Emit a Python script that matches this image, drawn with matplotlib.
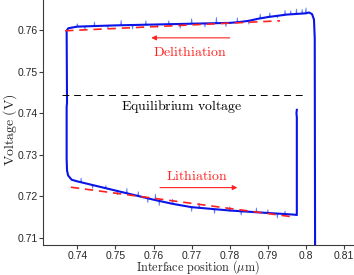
import matplotlib
matplotlib.use("Agg")
import matplotlib.pyplot as plt

plt.rcParams['mathtext.fontset'] = 'cm'

# blue simulated curve (one path: lithiation then delithiation)
curve_x = [0.7976, 0.7975, 0.7976, 0.7976, 0.7970, 0.790, 0.785, 0.780, 0.775, 0.770,
           0.765, 0.760, 0.755, 0.750, 0.745, 0.740, 0.7385, 0.7376, 0.7373, 0.7372,
           0.7372, 0.7373, 0.7372, 0.7376, 0.740, 0.750, 0.760, 0.770, 0.780, 0.7825,
           0.785, 0.7875, 0.790, 0.795, 0.800, 0.8008, 0.8016, 0.8021, 0.8023, 0.8024]
curve_y = [0.7408, 0.7400, 0.7390, 0.7155, 0.7156, 0.7160, 0.7163, 0.7166, 0.7170, 0.7174,
           0.7182, 0.7192, 0.7203, 0.7214, 0.7225, 0.7236, 0.7240, 0.7250, 0.7262, 0.7290,
           0.7415, 0.7425, 0.7598, 0.7604, 0.7608, 0.7611, 0.7613, 0.7615, 0.7617, 0.7619,
           0.7622, 0.7627, 0.7631, 0.7637, 0.7640, 0.7642, 0.7638, 0.7625, 0.7580, 0.7000]

# noise spikes around the curves (x, base voltage, excursion)
up_spike_x = [0.7400, 0.7420, 0.7445, 0.7480, 0.7515, 0.7545, 0.7580, 0.7610, 0.7640,
              0.7670, 0.7700, 0.7735, 0.7765, 0.7790, 0.7820, 0.7850, 0.7880, 0.7905,
              0.7925, 0.7945, 0.7960, 0.7975, 0.7990, 0.8000]
up_spike_y = [0.7608, 0.7609, 0.7610, 0.7610, 0.7611, 0.7611, 0.7612, 0.7613, 0.7614,
              0.7614, 0.7615, 0.7615, 0.7616, 0.7617, 0.7618, 0.7622, 0.7628, 0.7632,
              0.7635, 0.7637, 0.7638, 0.7639, 0.7640, 0.7641]
up_spike_d = [0.0007, -0.0008, 0.0009, -0.0006, 0.0012, -0.0009, 0.0010, -0.0007, 0.0008,
              -0.0010, 0.0012, -0.0008, 0.0014, -0.0009, 0.0011, -0.0008, 0.0010, 0.0009,
              -0.0006, 0.0010, 0.0008, 0.0011, 0.0009, 0.0012]
lo_spike_x = [0.7410, 0.7440, 0.7475, 0.7505, 0.7530, 0.7560, 0.7585, 0.7605, 0.7615,
              0.7650, 0.7700, 0.7720, 0.7760, 0.7800, 0.7830, 0.7870, 0.7900, 0.7925,
              0.7945]
lo_spike_y = [0.7234, 0.7227, 0.7219, 0.7213, 0.7207, 0.7201, 0.7196, 0.7192, 0.7190,
              0.7184, 0.7174, 0.7172, 0.7168, 0.7165, 0.7163, 0.7161, 0.7159, 0.7158,
              0.7157]
lo_spike_d = [0.0010, -0.0008, 0.0007, -0.0009, 0.0012, 0.0010, -0.0011, 0.0013, -0.0012,
              0.0009, -0.0010, 0.0011, -0.0009, 0.0010, -0.0008, 0.0011, 0.0009, -0.0010,
              0.0008]

# red dashed fits
fit_up_x = [0.7368, 0.7932]
fit_up_y = [0.7598, 0.7622]
fit_lo_x = [0.7383, 0.7971]
fit_lo_y = [0.7222, 0.7150]

eq_x = [0.7360, 0.7992]
eq_v = 0.7444

fig = plt.figure(figsize=(3.54, 2.75), dpi=100)
ax = fig.add_axes([0.1215, 0.109, 0.8785, 0.891])

for xs, ys, ds in [(up_spike_x, up_spike_y, up_spike_d), (lo_spike_x, lo_spike_y, lo_spike_d)]:
    for x, y, d in zip(xs, ys, ds):
        ax.plot([x - 0.00015, x, x + 0.00015], [y, y + d, y], color='#5f7bff', lw=0.6)

ax.plot(curve_x, curve_y, color='#0a14e6', lw=1.5, solid_joinstyle='round')
ax.plot(fit_up_x, fit_up_y, color='#ff2020', lw=1.2, ls=(0, (5, 3.5)))
ax.plot(fit_lo_x, fit_lo_y, color='#ff2020', lw=1.2, ls=(0, (5, 3.5)))
ax.plot(eq_x, [eq_v, eq_v], color='k', lw=0.7, ls=(0, (7, 5)))

ax.annotate('', xy=(0.7594, 0.7581), xytext=(0.7800, 0.7581),
            arrowprops=dict(arrowstyle='-|>', color='#ff2020', lw=0.8,
                            mutation_scale=7, shrinkA=0, shrinkB=0))
ax.text(0.7696, 0.7547, r'$\mathrm{Delithiation}$', color='#ff2020', fontsize=10,
        ha='center', va='center')
ax.annotate('', xy=(0.7820, 0.7221), xytext=(0.7617, 0.7221),
            arrowprops=dict(arrowstyle='-|>', color='#ff2020', lw=0.8,
                            mutation_scale=7, shrinkA=0, shrinkB=0))
ax.text(0.7714, 0.7250, r'$\mathrm{Lithiation}$', color='#ff2020', fontsize=10,
        ha='center', va='center')
ax.text(0.7675, 0.7415, r'$\mathrm{Equilibrium\ voltage}$', color='k', fontsize=10,
        ha='center', va='center')

ax.set_xlim(0.731, 0.8126)
ax.set_ylim(0.7083, 0.7672)
ax.set_xticks([0.74, 0.75, 0.76, 0.77, 0.78, 0.79, 0.80, 0.81])
ax.set_xticklabels(['0.74', '0.75', '0.76', '0.77', '0.78', '0.79', '0.8', '0.81'])
ax.set_yticks([0.71, 0.72, 0.73, 0.74, 0.75, 0.76])
ax.set_yticklabels(['0.71', '0.72', '0.73', '0.74', '0.75', '0.76'])

for s in ['top', 'right']:
    ax.spines[s].set_visible(False)
for s in ['left', 'bottom']:
    ax.spines[s].set_color('#3c3c3c')
    ax.spines[s].set_linewidth(0.8)
ax.tick_params(direction='out', length=3, width=0.8, color='#3c3c3c',
               labelcolor='#262626', labelsize=7.5, pad=1)
for lab in ax.get_xticklabels() + ax.get_yticklabels():
    lab.set_family('Liberation Sans')

ax.set_xlabel(r'$\mathrm{Interface\ position\ (}\mu\mathrm{m)}$', fontsize=8.8,
              color='#262626', va='center')
ax.xaxis.set_label_coords(0.497, -0.091)
ax.set_ylabel(r'$\mathrm{Voltage\ (V)}$', fontsize=10, color='#262626', va='center')
ax.yaxis.set_label_coords(-0.106, 0.469)

fig.savefig('out.png', dpi=100)
